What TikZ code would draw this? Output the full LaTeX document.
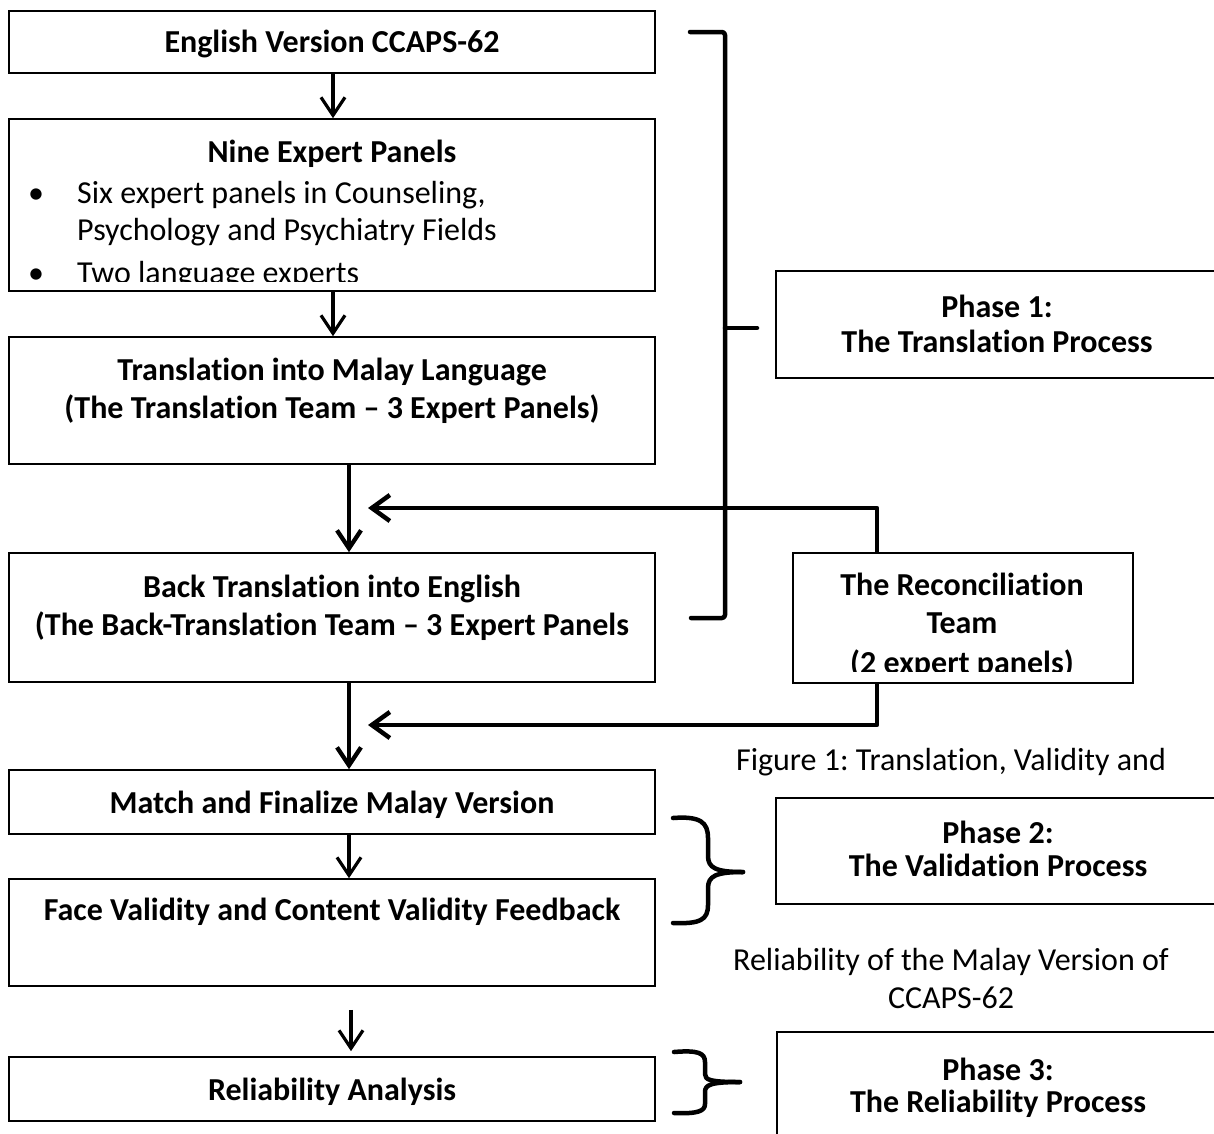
\documentclass[tikz,border=0pt]{standalone}
\usepackage{fontspec}
\setmainfont{Carlito}[Ligatures=NoCommon]
\usetikzlibrary{arrows.meta}
\frenchspacing
\begin{document}
\begin{tikzpicture}[x=1pt,y=-1pt,
  box/.style={draw=black, line width=1.6pt, rectangle, inner sep=0pt},
  btxt/.style={font=\fontsize{32}{38}\selectfont\bfseries, anchor=base, inner sep=0pt},
  rtxt/.style={font=\fontsize{32}{38}\selectfont, anchor=base, inner sep=0pt},
  ltxt/.style={font=\fontsize{32}{38}\selectfont, anchor=base west, inner sep=0pt},
  arrthin/.style={line width=3.2pt, -{Straight Barb[length=18pt,width=24pt]}},
  arrthick/.style={line width=4.3pt, -{Straight Barb[length=18pt,width=24pt]}},
  fb/.style={line width=4.5pt, line join=round, -{Straight Barb[length=18pt,width=26pt]}},
  brk/.style={line width=4.5pt, line cap=round, line join=round},
]
\useasboundingbox (0,0) rectangle (1214,1133);
\clip (0,0) rectangle (1214,1133);
\fill[white] (0,0) rectangle (1214,1133);

% left column boxes
\node[box, minimum width=646pt, minimum height=62pt]  (b1) at (332,42) {};
\node[box, minimum width=646pt, minimum height=172pt] (b2) at (332,205) {};
\node[box, minimum width=646pt, minimum height=127pt] (b3) at (332,400.5) {};
\node[box, minimum width=646pt, minimum height=129pt] (b4) at (332,617.5) {};
\node[box, minimum width=646pt, minimum height=64pt]  (b5) at (332,802) {};
\node[box, minimum width=646pt, minimum height=107pt] (b6) at (332,932.5) {};
\node[box, minimum width=646pt, minimum height=64pt]  (b7) at (332,1089) {};

% right column boxes
\node[box, minimum width=340pt, minimum height=130pt] (rc) at (963,618) {};
\node[box, minimum width=480pt, minimum height=107pt] (p1) at (1016,324.5) {};
\node[box, minimum width=480pt, minimum height=106pt] (p2) at (1016,851) {};
\node[box, minimum width=480pt, minimum height=118pt] (p3) at (1017,1091) {};

% texts
\node[btxt] (t1) at (332,52) {English Version CCAPS-62};
\node[btxt] (t2) at (332,162) {Nine Expert Panels};
\node[rtxt] (u1) at (36,203) {•};
\node[ltxt] (t2a) at (77,203) {Six expert panels in Counseling,};
\node[ltxt] (t2b) at (77,240) {Psychology and Psychiatry Fields};
\begin{scope}
  \clip (10,250) rectangle (654,281);
  \node[rtxt] (u2) at (36,283) {•};
  \node[ltxt] (t2c) at (77,283) {Two language experts};
\end{scope}
\node[btxt] (t3a) at (332,380) {Translation into Malay Language};
\node[btxt] (t3b) at (332,418) {(The Translation Team – 3 Expert Panels)};
\node[btxt] (t4a) at (332,597) {Back Translation into English};
\node[btxt] (t4b) at (332,635) {(The Back-Translation Team – 3 Expert Panels};
\node[btxt] (t5) at (332,813) {Match and Finalize Malay Version};
\node[btxt] (t6) at (332,920) {Face Validity and Content Validity Feedback};
\node[btxt] (t7) at (332,1100) {Reliability Analysis};

\node[btxt] (rca) at (962,595) {The Reconciliation};
\node[btxt] (rcb) at (962,633) {Team};
\begin{scope}
  \clip (795,640) rectangle (1131,671);
  \node[btxt] (rcc) at (962,673) {(2 expert panels)};
\end{scope}

\node[btxt] (p1a) at (997,317) {Phase 1:};
\node[btxt] (p1b) at (997,352) {The Translation Process};
\node[btxt] (p2a) at (998,843) {Phase 2:};
\node[btxt] (p2b) at (998,876) {The Validation Process};
\node[btxt] (p3a) at (998,1080) {Phase 3:};
\node[btxt] (p3b) at (998,1112) {The Reliability Process};

\node[rtxt] (c1) at (951,770) {Figure 1: Translation, Validity and};
\node[rtxt] (c2) at (951,970) {Reliability of the Malay Version of};
\node[rtxt] (c3) at (951,1008) {CCAPS-62};

% arrows
\draw[arrthin] ([xshift=1pt]b1.south) -- ([xshift=1pt]b2.north);
\draw[arrthin] ([xshift=1pt]b2.south) -- ([xshift=1pt]b3.north);
\draw[arrthick] ([xshift=17pt]b3.south) -- ([xshift=17pt]b4.north);
\draw[arrthick] ([xshift=17pt]b4.south) -- ([xshift=17pt]b5.north);
\draw[arrthin] ([xshift=17pt]b5.south) -- ([xshift=17pt]b6.north);
\draw[arrthin] ([xshift=19pt,yshift=-23pt]b6.south) -- ([xshift=19pt,yshift=5pt]b7.north);

% feedback from reconciliation team
\coordinate (fbA) at (368,508);
\coordinate (fbB) at (368,725);
\draw[fb] ([xshift=-86pt]rc.north) |- (fbA);
\draw[fb] ([xshift=-86pt]rc.south) |- (fbB);

% phase 1 bracket
\draw[brk, rounded corners=3pt] (690,32) -- (725,32) -- (725,618) -- (691,618);
\draw[brk] (725,328) -- (757,328);

% phase 2 brace
\draw[brk] (673,818) .. controls (700,816) and (708,822) .. (708,838) -- (708,856)
  .. controls (708,868) and (716,872) .. (743,872);
\draw[brk] (743,872) .. controls (716,872) and (708,876) .. (708,888) -- (708,905)
  .. controls (708,920) and (700,924) .. (673,923);

% phase 3 brace
\draw[brk] (674,1052) .. controls (698,1050) and (705,1053) .. (705,1062) -- (705,1074)
  .. controls (705,1080) and (710,1082) .. (740,1082);
\draw[brk] (740,1082) .. controls (710,1082) and (705,1085) .. (705,1092) -- (705,1104)
  .. controls (705,1111) and (698,1114) .. (674,1113);
\end{tikzpicture}
\end{document}
